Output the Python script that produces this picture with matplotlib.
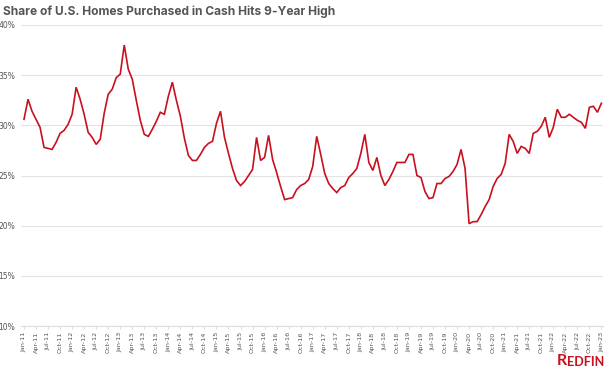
import matplotlib.pyplot as plt
import pandas as pd

# Share of homes bought in cash, monthly Jan-11 .. Jan-23 (%)
cash_share = [
    30.6, 32.6, 31.4, 30.6, 29.8, 27.8, 27.7, 27.6, 28.3, 29.2, 29.5, 30.1,
    31.1, 33.8, 32.6, 31.1, 29.3, 28.8, 28.1, 28.6, 31.2, 33.1, 33.6, 34.75,
    35.1, 38.0, 35.6, 34.6, 32.5, 30.5, 29.1, 28.9, 29.6, 30.4, 31.3, 31.1,
    32.9, 34.3, 32.5, 30.9, 28.7, 27.0, 26.5, 26.5, 27.1, 27.8, 28.2, 28.4,
    30.2, 31.4, 28.8, 27.2, 25.7, 24.5, 24.0, 24.4, 25.0, 25.6, 28.8, 26.5,
    26.8, 29.0, 26.6, 25.3, 23.9, 22.6, 22.7, 22.8, 23.6, 24.0, 24.2, 24.6,
    25.9, 28.9, 27.1, 25.2, 24.2, 23.7, 23.3, 23.8, 24.0, 24.8, 25.2, 25.7,
    27.2, 29.1, 26.3, 25.5, 26.8, 25.0, 24.0, 24.6, 25.4, 26.3, 26.3, 26.3,
    27.1, 27.1, 25.0, 24.8, 23.4, 22.7, 22.8, 24.2, 24.2, 24.7, 24.9, 25.4,
    26.1, 27.6, 25.7, 20.2, 20.4, 20.4, 21.1, 21.9, 22.6, 23.9, 24.7, 25.1,
    26.2, 29.1, 28.4, 27.2, 27.9, 27.7, 27.2, 29.2, 29.4, 29.9, 30.8, 28.8,
    29.8, 31.6, 30.8, 30.8, 31.1, 30.8, 30.5, 30.3, 29.7, 31.8, 31.9, 31.3,
    32.2,
]
months = pd.date_range("2011-01-01", periods=len(cash_share), freq="MS")
tick_labels = [m.strftime("%b-%y") for m in months[::3]]
y_ticks = [10, 15, 20, 25, 30, 35, 40]

fig = plt.figure(figsize=(6.1, 3.69), dpi=100)
ax = fig.add_axes([21 / 610, 1 - 326 / 369, (603 - 21) / 610, 301 / 369])

x = list(range(len(cash_share)))
ax.plot(x, cash_share, color="#c8101e", lw=1.2, solid_joinstyle="miter", zorder=3)

ax.set_xlim(-0.75, len(cash_share) - 0.6)
ax.set_ylim(10, 40)
ax.set_yticks(y_ticks)
ax.set_yticklabels([f"{v}%" for v in y_ticks], fontsize=5.5, color="#555555")
ax.set_xticks(x[::3])
ax.set_xticklabels(tick_labels, rotation=90, fontsize=4.6, color="#555555")

ax.grid(axis="y", color="#e4e4e4", lw=0.8)
ax.set_axisbelow(True)
for side in ["top", "right", "left"]:
    ax.spines[side].set_visible(False)
ax.spines["bottom"].set_color("#dddddd")
ax.spines["bottom"].set_linewidth(0.8)
ax.tick_params(axis="y", length=0, pad=4)
ax.tick_params(axis="x", length=2, color="#dddddd", pad=2)

fig.text(3 / 610, 1 - 12 / 369, "Share of U.S. Homes Purchased in Cash Hits 9-Year High",
         fontsize=8.6, fontweight="bold", family="Inter", color="#555555", va="center")

r = fig.text(557 / 610, 1 - 365 / 369, "R", fontsize=11.5, fontweight="bold",
             color="#c8101e", va="baseline", family="Lato")
ax.annotate("EDFIN", xy=(1, 0), xycoords=r, fontsize=9, fontweight="bold",
            color="#c8101e", va="bottom", family="Lato", annotation_clip=False)

fig.savefig("out.png", dpi=100)
